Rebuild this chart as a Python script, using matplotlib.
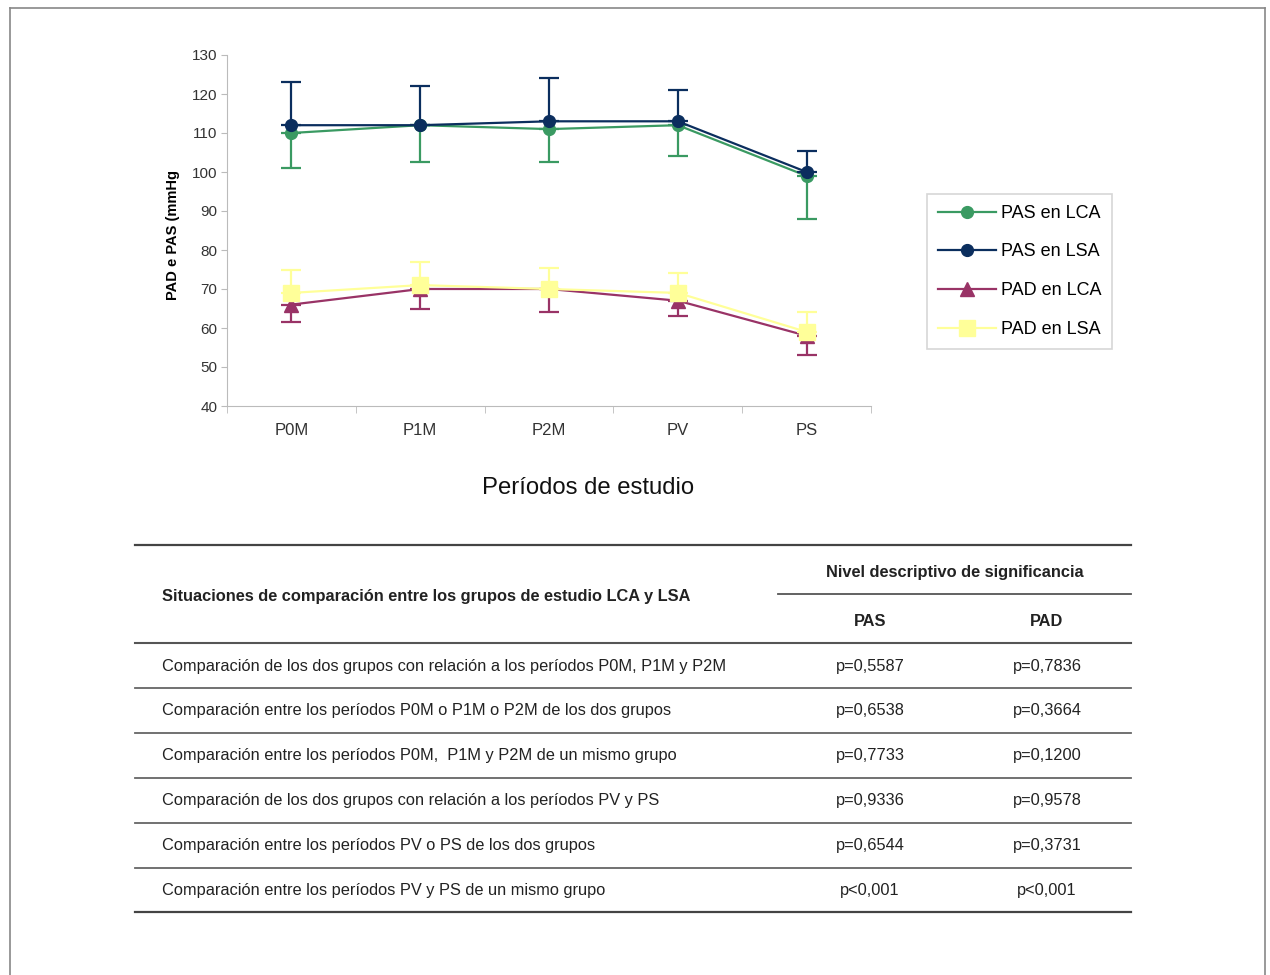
import matplotlib
matplotlib.use("Agg")
import matplotlib.pyplot as plt
from matplotlib import font_manager
from matplotlib.lines import Line2D

# --- DATA ---
periodos = ["P0M", "P1M", "P2M", "PV", "PS"]

pas_lca = [110, 112, 111, 112, 99]
pas_lca_err = [9, 9.5, 8.5, 8, 11]        # shown below the mean
pas_lsa = [112, 112, 113, 113, 100]
pas_lsa_err = [11, 10, 11, 8, 5.5]        # shown above the mean
pad_lca = [66, 70, 70, 67, 58]
pad_lca_err = [4.5, 5, 6, 4, 5]           # below
pad_lsa = [69, 71, 70, 69, 59]
pad_lsa_err = [6, 6, 5.5, 5, 5]           # above

table_header = "Situaciones de comparación entre los grupos de estudio LCA y LSA"
table_group = "Nivel descriptivo de significancia"
table_cols = ["PAS", "PAD"]
table_rows = [
    "Comparación de los dos grupos con relación a los períodos P0M, P1M y P2M",
    "Comparación entre los períodos P0M o P1M o P2M de los dos grupos",
    "Comparación entre los períodos P0M,  P1M y P2M de un mismo grupo",
    "Comparación de los dos grupos con relación a los períodos PV y PS",
    "Comparación entre los períodos PV o PS de los dos grupos",
    "Comparación entre los períodos PV y PS de un mismo grupo",
]
p_pas = ["p=0,5587", "p=0,6538", "p=0,7733", "p=0,9336", "p=0,6544", "p<0,001"]
p_pad = ["p=0,7836", "p=0,3664", "p=0,1200", "p=0,9578", "p=0,3731", "p<0,001"]

# --- FONTS ---
installed = {f.name for f in font_manager.fontManager.ttflist}
if "Liberation Sans Narrow" in installed:
    narrow, tsize = "Liberation Sans Narrow", 13.5
else:
    narrow, tsize = "Liberation Sans", 11.8
plt.rcParams["font.family"] = ["Liberation Sans", "DejaVu Sans"]

W, H = 1270, 975
fig = plt.figure(figsize=(W / 100, H / 100), dpi=100)


def fx(px):
    return px / W


def fy(py):
    return 1 - py / H


# outer frame
for xs, ys in [((10, 1265), (8, 8)), ((10, 10), (8, 975)), ((1265, 1265), (8, 975))]:
    fig.add_artist(Line2D([fx(x) for x in xs], [fy(y) for y in ys], color="#888888", lw=1.2))

# --- CHART ---
ax = fig.add_axes([fx(227), fy(406), fx(871) - fx(227), fy(55) - fy(406)])
x = list(range(len(periodos)))

green = "#3a9a62"
navy = "#0b2e5e"
purple = "#993366"
yellow = "#ffff99"

style = dict(lw=1.6, capsize=7, capthick=1.6, elinewidth=1.6)
c1 = ax.errorbar(x, pas_lca, yerr=[pas_lca_err, [0] * 5], color=green, marker="o",
                 ms=8.5, zorder=3, **style)
c2 = ax.errorbar(x, pas_lsa, yerr=[[0] * 5, pas_lsa_err], color=navy, marker="o",
                 ms=8.5, zorder=4, **style)
c3 = ax.errorbar(x, pad_lca, yerr=[pad_lca_err, [0] * 5], color=purple, marker="^",
                 ms=10, zorder=3, **style)
c4 = ax.errorbar(x, pad_lsa, yerr=[[0] * 5, pad_lsa_err], color=yellow, marker="s",
                 ms=12, zorder=4, **style)

ax.set_xlim(-0.5, 4.5)
ax.set_ylim(40, 130)
ax.set_yticks(range(40, 131, 10))
ax.set_xticks(x)
ax.set_xticklabels(periodos)
ax.set_xticks([i - 0.5 for i in range(6)], minor=True)
ax.tick_params(axis="x", which="major", length=0, pad=12, labelsize=12, labelcolor="#333333")
ax.tick_params(axis="x", which="minor", length=5, color="#bbbbbb", direction="out")
ax.tick_params(axis="y", length=4, color="#bbbbbb", labelsize=11, labelcolor="#333333", pad=3)
for side in ["top", "right"]:
    ax.spines[side].set_visible(False)
for side in ["left", "bottom"]:
    ax.spines[side].set_color("#bbbbbb")

fig.text(fx(173), fy(235), "PAD e PAS (mmHg", rotation=90, ha="center", va="center",
         fontsize=10.5, fontweight="bold", family=[narrow, "DejaVu Sans"])
fig.text(fx(588), fy(488), "Períodos de estudio", ha="center", va="center", fontsize=17.2,
         color="#111111")

handles = [c1.lines[0], c2.lines[0], c3.lines[0], c4.lines[0]]
labels = ["PAS en LCA", "PAS en LSA", "PAD en LCA", "PAD en LSA"]
leg = fig.legend(handles, labels, loc="upper left", bbox_to_anchor=(fx(927), fy(194)),
                 fontsize=13, frameon=True, fancybox=False, edgecolor="#cccccc",
                 handlelength=3.2, borderpad=0.6, labelspacing=1.2, handletextpad=0.3,
                 borderaxespad=0)
leg.get_frame().set_linewidth(1.2)

# --- TABLE ---
tfont = [narrow, "DejaVu Sans"]
tcolor = "#222222"


def hline(x0, x1, y, lw=1.3, color="#555555"):
    fig.add_artist(Line2D([fx(x0), fx(x1)], [fy(y), fy(y)], color=color, lw=lw))


hline(135, 1131, 545, lw=1.6, color="#444444")
hline(778, 1131, 594)
hline(135, 1131, 643, lw=1.5)
fig.text(fx(162), fy(597), table_header, ha="left", va="center", fontsize=tsize,
         fontweight="bold", family=tfont, color=tcolor)
fig.text(fx(955), fy(572), table_group, ha="center", va="center", fontsize=tsize,
         fontweight="bold", family=tfont, color=tcolor)
fig.text(fx(870), fy(621), table_cols[0], ha="center", va="center", fontsize=tsize,
         fontweight="bold", family=tfont, color=tcolor)
fig.text(fx(1047), fy(621), table_cols[1], ha="center", va="center", fontsize=tsize,
         fontweight="bold", family=tfont, color=tcolor)

row_y0, row_h = 666, 44.8
for i, (label, a, b) in enumerate(zip(table_rows, p_pas, p_pad)):
    yc = row_y0 + i * row_h
    fig.text(fx(162), fy(yc), label, ha="left", va="center", fontsize=tsize, family=tfont,
             color=tcolor)
    fig.text(fx(870), fy(yc), a, ha="center", va="center", fontsize=tsize, family=tfont,
             color=tcolor)
    fig.text(fx(1047), fy(yc), b, ha="center", va="center", fontsize=tsize, family=tfont,
             color=tcolor)
    last = i == len(table_rows) - 1
    hline(135, 1131, yc + 22.4, lw=1.6 if last else 1.3, color="#444444" if last else "#666666")

fig.savefig("out.png", dpi=100)
